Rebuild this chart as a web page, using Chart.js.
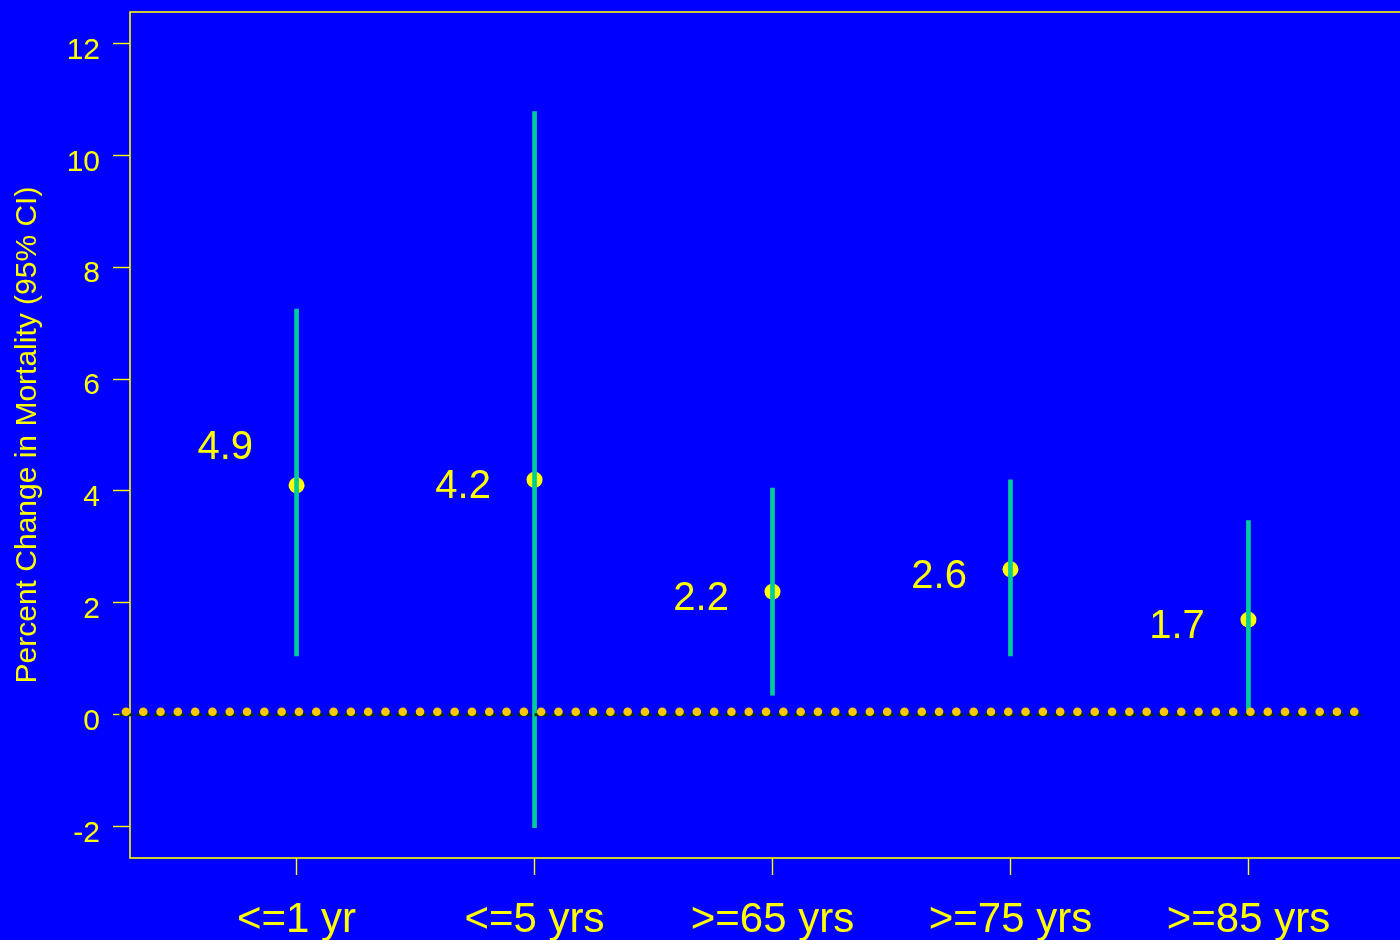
<!DOCTYPE html>
<html>
<head>
<meta charset="utf-8">
<script src="https://cdn.jsdelivr.net/npm/chart.js@4.4.1/dist/chart.umd.min.js"></script>
<style>
  html, body { margin: 0; padding: 0; background: #0000ff; overflow: hidden; }
  #wrap { width: 1423px; height: 940px; position: relative; overflow: visible; }
  canvas { display: block; }
</style>
</head>
<body>
<div id="wrap"><canvas id="c" width="1423" height="940" style="width:1423px;height:940px"></canvas></div>
<script>
// Age groups and percent change in mortality with 95% confidence limits
const groups = ['<=1 yr', '<=5 yrs', '>=65 yrs', '>=75 yrs', '>=85 yrs'];
const estimates = [4.1, 4.2, 2.2, 2.6, 1.7];
const lowerCI = [1.05, -2.02, 0.35, 1.05, 0.05];
const upperCI = [7.25, 10.78, 4.05, 4.2, 3.47];
const labelValues = [4.9, 4.2, 2.2, 2.6, 1.7];
const yTicks = [-2, 0, 2, 4, 6, 8, 10, 12];
const referenceValue = 0;

const FONT = "'Liberation Sans', Arial, Helvetica, sans-serif";
const YELLOW = '#ffff00';

// Blue page background on the canvas
const backgroundPlugin = {
  id: 'bg',
  beforeDraw(chart) {
    const ctx = chart.ctx;
    ctx.save();
    ctx.fillStyle = '#0000ff';
    ctx.fillRect(0, 0, chart.width, chart.height);
    ctx.restore();
  }
};

// Box around the plotting region
const framePlugin = {
  id: 'frame',
  beforeDatasetsDraw(chart) {
    const { ctx, chartArea: a } = chart;
    ctx.save();
    ctx.strokeStyle = YELLOW;
    ctx.lineWidth = 1.6;
    ctx.strokeRect(a.left, a.top, a.right - a.left, a.bottom - a.top);
    ctx.restore();
  }
};

// Dotted reference line at zero and the value labels beside each estimate
const annotatePlugin = {
  id: 'annotate',
  afterDatasetsDraw(chart) {
    const { ctx, scales: { x, y } } = chart;
    const y0 = y.getPixelForValue(referenceValue);
    const xa = x.getPixelForValue(0.283);
    const xb = x.getPixelForValue(5.455);
    const step = 17.3;
    ctx.save();
    // dark dashes under the dots
    ctx.strokeStyle = '#003800';
    ctx.lineWidth = 3;
    ctx.beginPath();
    for (let px = xa; px <= xb + 0.1; px += step) {
      ctx.moveTo(px - 6.6, y0);
      ctx.lineTo(px + 6.6, y0);
    }
    ctx.stroke();
    // gold dots
    ctx.fillStyle = '#ffc800';
    for (let px = xa; px <= xb + 0.1; px += step) {
      ctx.beginPath();
      ctx.arc(px, y0 - 3, 4.3, 0, Math.PI * 2);
      ctx.fill();
    }
    // value labels
    ctx.fillStyle = YELLOW;
    ctx.font = '40px ' + FONT;
    ctx.textAlign = 'center';
    ctx.textBaseline = 'middle';
    labelValues.forEach((v, i) => {
      ctx.fillText(v.toFixed(1), x.getPixelForValue(i + 1 - 0.3), y.getPixelForValue(v) + 7.5);
    });
    ctx.restore();
  }
};

const positions = groups.map((g, i) => i + 1);

new Chart(document.getElementById('c'), {
  type: 'bar',
  data: {
    datasets: [
      {
        type: 'bar',
        label: '95% CI',
        data: positions.map((p, i) => ({ x: p, y: [lowerCI[i], upperCI[i]] })),
        backgroundColor: '#00cc99',
        borderWidth: 0,
        barThickness: 4,
        order: 0
      },
      {
        type: 'scatter',
        label: 'Estimate',
        data: positions.map((p, i) => ({ x: p, y: estimates[i] })),
        backgroundColor: YELLOW,
        borderWidth: 0,
        pointRadius: 8,
        pointHoverRadius: 8,
        order: 1
      }
    ]
  },
  options: {
    responsive: false,
    maintainAspectRatio: false,
    devicePixelRatio: 1,
    animation: false,
    layout: { padding: { top: 12, right: 0, left: 0, bottom: 0 } },
    plugins: { legend: { display: false }, tooltip: { enabled: false } },
    scales: {
      x: {
        type: 'linear',
        min: 0.3,
        max: 5.7,
        offset: false,
        afterBuildTicks(scale) { scale.ticks = positions.map(v => ({ value: v })); },
        afterFit(scale) {
          scale.height = 82;
          scale.paddingLeft = 0;
          scale.paddingRight = 0;
        },
        grid: { offset: false, drawOnChartArea: false, drawTicks: true, tickLength: 17, tickColor: YELLOW, tickWidth: 1.4 },
        border: { display: false },
        ticks: {
          autoSkip: false,
          maxRotation: 0,
          padding: 20,
          color: YELLOW,
          font: { family: FONT, size: 42, lineHeight: 1.2 },
          callback: (v) => groups[v - 1]
        }
      },
      y: {
        type: 'linear',
        min: -2.56,
        max: 12.56,
        afterBuildTicks(scale) { scale.ticks = yTicks.map(v => ({ value: v })); },
        afterFit(scale) {
          scale.width = 130;
          scale.paddingTop = 0;
          scale.paddingBottom = 0;
        },
        grid: { drawOnChartArea: false, drawTicks: true, tickLength: 17, tickColor: YELLOW, tickWidth: 1.4 },
        border: { display: false },
        ticks: {
          padding: 13,
          labelOffset: 7,
          color: YELLOW,
          font: { family: FONT, size: 30, lineHeight: 1.2 },
          callback: (v) => String(v)
        },
        title: {
          display: true,
          text: 'Percent Change in Mortality (95% CI)',
          color: YELLOW,
          font: { family: FONT, size: 30, lineHeight: 1.2 },
          padding: { top: 10, bottom: 0 }
        }
      }
    }
  },
  plugins: [backgroundPlugin, framePlugin, annotatePlugin]
});
</script>
</body>
</html>
